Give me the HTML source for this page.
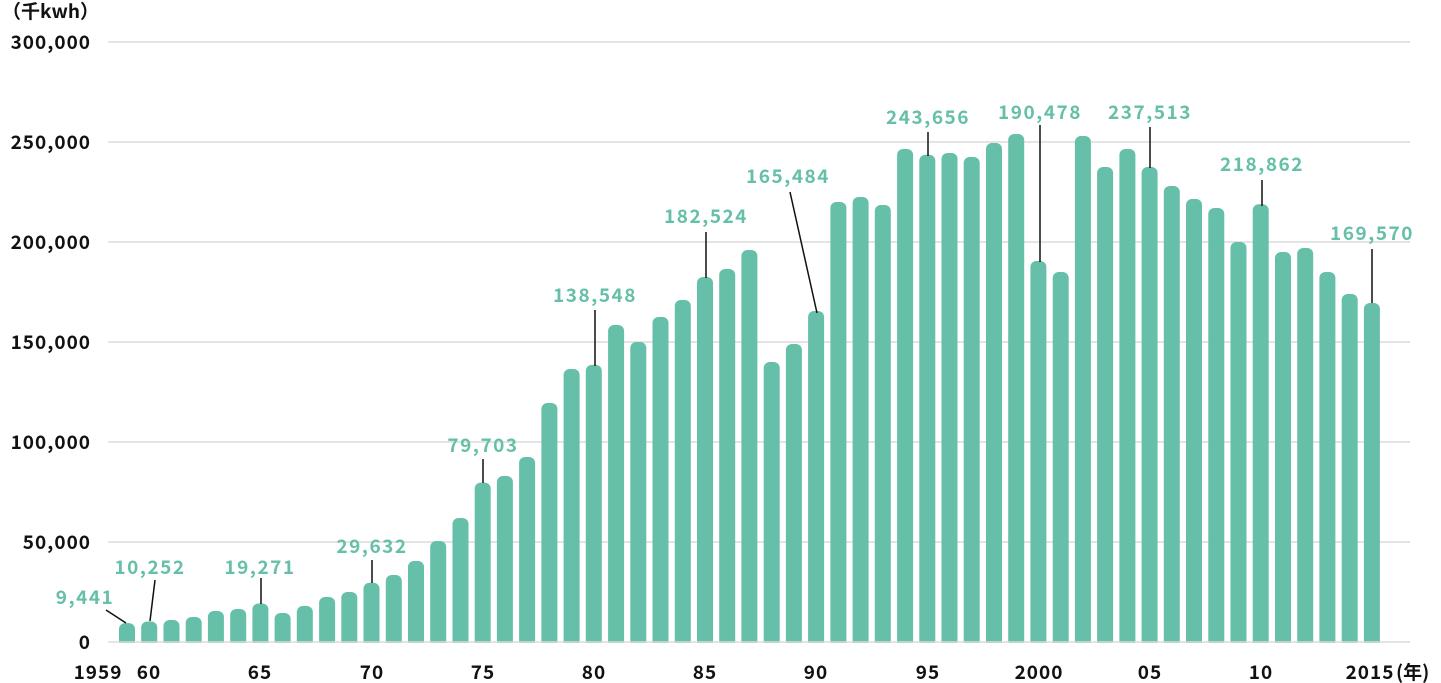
<!DOCTYPE html>
<html><head><meta charset="utf-8"><style>
html,body{margin:0;padding:0;background:#fff;width:1441px;height:683px;overflow:hidden}
svg{display:block}
text{font-family:"Noto Sans CJK JP","Liberation Sans",sans-serif;font-weight:700}
.ax{font-size:19px;fill:#111;letter-spacing:1px}
.lb{font-size:19px;fill:#66bfa8;letter-spacing:1.5px}
</style></head><body>
<svg width="1441" height="683" xmlns="http://www.w3.org/2000/svg">
<g stroke="#dcdcdc" stroke-width="1.5">
<line x1="108" x2="1410" y1="42" y2="42"/>
<line x1="108" x2="1410" y1="142" y2="142"/>
<line x1="108" x2="1410" y1="242" y2="242"/>
<line x1="108" x2="1410" y1="342" y2="342"/>
<line x1="108" x2="1410" y1="442" y2="442"/>
<line x1="108" x2="1410" y1="542" y2="542"/>
</g>
<g fill="#66bfa8">
<rect x="119" y="623.1" width="16" height="30" rx="6"/>
<rect x="141.2" y="621.5" width="16" height="30" rx="6"/>
<rect x="163.5" y="620" width="16" height="30" rx="6"/>
<rect x="185.7" y="617" width="16" height="35" rx="6"/>
<rect x="207.9" y="611" width="16" height="41" rx="6"/>
<rect x="230.2" y="609" width="16" height="43" rx="6"/>
<rect x="252.4" y="603.5" width="16" height="48" rx="6"/>
<rect x="274.6" y="613" width="16" height="39" rx="6"/>
<rect x="296.8" y="606" width="16" height="46" rx="6"/>
<rect x="319.1" y="597" width="16" height="55" rx="6"/>
<rect x="341.3" y="592" width="16" height="60" rx="6"/>
<rect x="363.5" y="582.7" width="16" height="70" rx="6"/>
<rect x="385.8" y="575" width="16" height="77" rx="6"/>
<rect x="408" y="561" width="16" height="91" rx="6"/>
<rect x="430.2" y="541" width="16" height="111" rx="6"/>
<rect x="452.5" y="518" width="16" height="134" rx="6"/>
<rect x="474.7" y="482.6" width="16" height="170" rx="6"/>
<rect x="496.9" y="476" width="16" height="176" rx="6"/>
<rect x="519.1" y="457" width="16" height="195" rx="6"/>
<rect x="541.4" y="403" width="16" height="249" rx="6"/>
<rect x="563.6" y="369" width="16" height="283" rx="6"/>
<rect x="585.8" y="364.9" width="16" height="288" rx="6"/>
<rect x="608.1" y="325" width="16" height="327" rx="6"/>
<rect x="630.3" y="342" width="16" height="310" rx="6"/>
<rect x="652.5" y="317" width="16" height="335" rx="6"/>
<rect x="674.8" y="300" width="16" height="352" rx="6"/>
<rect x="697" y="277" width="16" height="375" rx="6"/>
<rect x="719.2" y="269" width="16" height="383" rx="6"/>
<rect x="741.4" y="250" width="16" height="402" rx="6"/>
<rect x="763.7" y="362" width="16" height="290" rx="6"/>
<rect x="785.9" y="344" width="16" height="308" rx="6"/>
<rect x="808.1" y="311" width="16" height="341" rx="6"/>
<rect x="830.4" y="202" width="16" height="450" rx="6"/>
<rect x="852.6" y="197" width="16" height="455" rx="6"/>
<rect x="874.8" y="205" width="16" height="447" rx="6"/>
<rect x="897.1" y="149" width="16" height="503" rx="6"/>
<rect x="919.3" y="154.7" width="16" height="498" rx="6"/>
<rect x="941.5" y="153" width="16" height="499" rx="6"/>
<rect x="963.7" y="157" width="16" height="495" rx="6"/>
<rect x="986" y="143" width="16" height="509" rx="6"/>
<rect x="1008.2" y="134" width="16" height="518" rx="6"/>
<rect x="1030.4" y="261" width="16" height="391" rx="6"/>
<rect x="1052.7" y="272" width="16" height="380" rx="6"/>
<rect x="1074.9" y="136" width="16" height="516" rx="6"/>
<rect x="1097.1" y="167" width="16" height="485" rx="6"/>
<rect x="1119.4" y="149" width="16" height="503" rx="6"/>
<rect x="1141.6" y="167" width="16" height="485" rx="6"/>
<rect x="1163.8" y="186" width="16" height="466" rx="6"/>
<rect x="1186" y="199" width="16" height="453" rx="6"/>
<rect x="1208.3" y="208" width="16" height="444" rx="6"/>
<rect x="1230.5" y="242" width="16" height="410" rx="6"/>
<rect x="1252.7" y="204.3" width="16" height="448" rx="6"/>
<rect x="1275" y="252" width="16" height="400" rx="6"/>
<rect x="1297.2" y="248" width="16" height="404" rx="6"/>
<rect x="1319.4" y="272" width="16" height="380" rx="6"/>
<rect x="1341.7" y="294" width="16" height="358" rx="6"/>
<rect x="1363.9" y="303" width="16" height="349" rx="6"/>
</g>
<rect x="100" y="643" width="1320" height="14" fill="#fff"/>
<line x1="108" x2="1410" y1="642" y2="642" stroke="#dcdcdc" stroke-width="1.5"/>
<text class="ax" x="2" y="18" style="letter-spacing:0">（千kwh）</text>
<g class="ax" text-anchor="end">
<text x="91" y="49">300,000</text>
<text x="91" y="149">250,000</text>
<text x="91" y="249">200,000</text>
<text x="91" y="349">150,000</text>
<text x="91" y="449">100,000</text>
<text x="91" y="549">50,000</text>
<text x="91" y="649">0</text>
</g>
<g class="ax" text-anchor="middle">
<text x="98" y="679">1959</text>
<text x="149" y="679">60</text>
<text x="260" y="679">65</text>
<text x="372" y="679">70</text>
<text x="483" y="679">75</text>
<text x="594" y="679">80</text>
<text x="705" y="679">85</text>
<text x="816" y="679">90</text>
<text x="928" y="679">95</text>
<text x="1039" y="679">2000</text>
<text x="1150" y="679">05</text>
<text x="1261" y="679">10</text>
<text x="1370" y="679">2015</text>
</g>
<text class="ax" x="1396" y="679" style="letter-spacing:0">(年)</text>
<g stroke="#111" stroke-width="1.5">
<line x1="106" y1="610" x2="126" y2="623"/>
<line x1="155" y1="580" x2="150" y2="621"/>
<line x1="261" y1="578" x2="261" y2="604"/>
<line x1="372" y1="560" x2="372" y2="583"/>
<line x1="483" y1="459" x2="483" y2="483"/>
<line x1="595" y1="310" x2="595" y2="366"/>
<line x1="706" y1="232" x2="706" y2="278"/>
<line x1="790" y1="192" x2="817" y2="313"/>
<line x1="928" y1="132" x2="928" y2="156"/>
<line x1="1040" y1="125" x2="1040" y2="262"/>
<line x1="1150" y1="127" x2="1150" y2="168"/>
<line x1="1262" y1="180" x2="1262" y2="206"/>
<line x1="1372" y1="249" x2="1372" y2="303"/>
</g>
<g class="lb" text-anchor="middle">
<text x="85" y="604">9,441</text>
<text x="150" y="574">10,252</text>
<text x="260" y="574">19,271</text>
<text x="372" y="553">29,632</text>
<text x="483" y="452">79,703</text>
<text x="595" y="302">138,548</text>
<text x="706" y="223">182,524</text>
<text x="788" y="183">165,484</text>
<text x="928" y="124">243,656</text>
<text x="1040" y="119">190,478</text>
<text x="1150" y="119">237,513</text>
<text x="1262" y="171">218,862</text>
<text x="1372" y="240">169,570</text>
</g>
</svg>
</body></html>
